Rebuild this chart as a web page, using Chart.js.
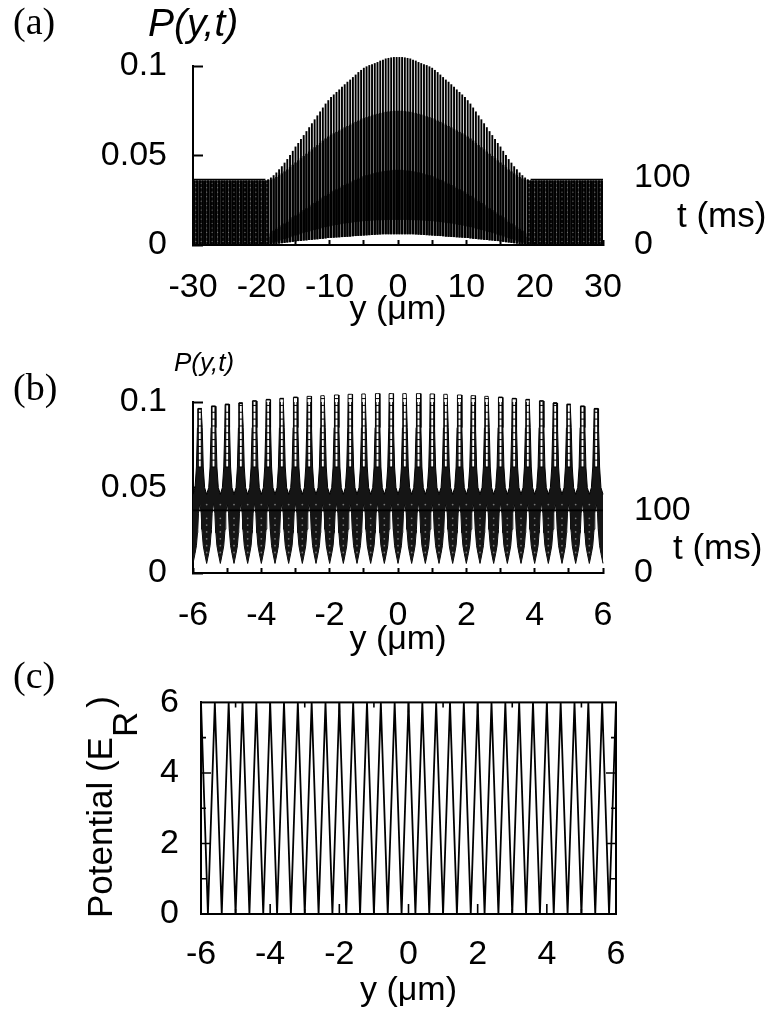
<!DOCTYPE html>
<html>
<head>
<meta charset="utf-8">
<title>P(y,t)</title>
<script src="https://cdn.jsdelivr.net/npm/chart.js@4/dist/chart.umd.min.js"></script>
<style>
  html, body { margin: 0; padding: 0; background: #fff; }
  #page { position: relative; width: 768px; height: 1011px; overflow: hidden; font-family: "Liberation Sans", Arial, sans-serif; color: #000; }
  canvas { position: absolute; left: 0; }
  .txt { position: absolute; white-space: nowrap; line-height: 1; }
  .serif { font-family: "Liberation Serif", serif; font-size: 38px; }
  .ital { font-style: italic; }
</style>
</head>
<body>
<div id="page">
  <canvas id="chartA" width="768" height="330" style="top:0"></canvas>
  <canvas id="chartB" width="768" height="330" style="top:330px"></canvas>
  <canvas id="chartC" width="768" height="351" style="top:660px"></canvas>

  <div class="txt serif" style="left:13px;top:2px">(a)</div>
  <div class="txt ital" style="left:148px;top:3px;font-size:39px">P(y,t)</div>
  <div class="txt" style="left:677px;top:197px;font-size:35px">t (ms)</div>

  <div class="txt serif" style="left:13px;top:368px">(b)</div>
  <div class="txt ital" style="left:174px;top:349px;font-size:26px">P(y,t)</div>
  <div class="txt" style="left:673px;top:529px;font-size:35px">t (ms)</div>

  <div class="txt serif" style="left:13px;top:656px">(c)</div>
  <div class="txt" style="left:82px;top:918px;font-size:35px;transform-origin:0 0;transform:rotate(-90deg)">Potential (E<span style="position:relative;top:25px">R</span><span style="margin-left:4px">)</span></div>
</div>

<script>
// ======== DATA (a): one spike per well, right half mirrored ========
const aPeakX = [-29.8,-29.4,-29,-28.6,-28.2,-27.8,-27.4,-27,-26.6,-26.2,-25.8,-25.4,-25,-24.6,-24.2,-23.8,-23.4,-23,-22.6,-22.2,-21.8,-21.4,-21,-20.6,-20.2,-19.8,-19.4,-19,-18.6,-18.2,-17.8,-17.4,-17,-16.6,-16.2,-15.8,-15.4,-15,-14.6,-14.2,-13.8,-13.4,-13,-12.6,-12.2,-11.8,-11.4,-11,-10.6,-10.2,-9.8,-9.4,-9,-8.6,-8.2,-7.8,-7.4,-7,-6.6,-6.2,-5.8,-5.4,-5,-4.6,-4.2,-3.8,-3.4,-3,-2.6,-2.2,-1.8,-1.4,-1,-0.6,-0.2,0.2,0.6,1,1.4,1.8,2.2,2.6,3,3.4,3.8,4.2,4.6,5,5.4,5.8,6.2,6.6,7,7.4,7.8,8.2,8.6,9,9.4,9.8,10.2,10.6,11,11.4,11.8,12.2,12.6,13,13.4,13.8,14.2,14.6,15,15.4,15.8,16.2,16.6,17,17.4,17.8,18.2,18.6,19,19.4,19.8,20.2,20.6,21,21.4,21.8,22.2,22.6,23,23.4,23.8,24.2,24.6,25,25.4,25.8,26.2,26.6,27,27.4,27.8,28.2,28.6,29,29.4,29.8];
const aHiHalf = [.105,.105,.1048,.1045,.1042,.1035,.103,.1022,.1016,.101,.1005,.0998,.099,.0978,.0966,.0952,.0938,.0924,.0912,.0898,.0884,.0869,.0855,.0841,.0827,.0809,.079,.0768,.0746,.0724,.0702,.068,.0658,.0636,.0614,.0592,.057,.055,.0526,.0503,.048,.046,.044,.0423,.0405,.039,.0377,.0367,.036,.036,.036,.036,.036,.036,.036,.036,.036,.036,.036,.036,.036,.036,.036,.036,.036,.036,.036,.036,.036,.036,.036,.036,.036,.036,.036];
const aMidHalf = [.075,.075,.0748,.0746,.0744,.074,.0737,.0733,.0729,.0724,.0719,.0714,.0709,.0702,.0695,.0688,.068,.0672,.0665,.0657,.0649,.064,.0632,.0624,.0616,.0606,.0595,.0583,.057,.0558,.0546,.0534,.0522,.051,.0497,.0485,.0473,.0461,.0448,.0435,.0422,.0411,.04,.039,.038,.0372,.0365,.0362,.036,.036,.036,.036,.036,.036,.036,.036,.036,.036,.036,.036,.036,.036,.036,.036,.036,.036,.036,.036,.036,.036,.036,.036,.036,.036,.036];
const aCoreHiHalf = [.042,.042,.0418,.0416,.0414,.0412,.041,.0406,.0402,.0398,.0394,.039,.0385,.0378,.0371,.0364,.0357,.035,.0343,.0335,.0327,.0319,.0311,.0303,.0295,.0285,.0275,.0265,.0255,.0245,.0235,.0225,.0215,.0205,.0195,.0185,.0175,.0165,.0155,.0143,.013,.012,.011,.01,.009,.008,.0065,.0045,.036,.036,.036,.036,.036,.036,.036,.036,.036,.036,.036,.036,.036,.036,.036,.036,.036,.036,.036,.036,.036,.036,.036,.036,.036,.036,.036];
const aCoreLoHalf = [.014,.014,.014,.014,.0139,.0139,.0138,.0138,.0137,.0136,.0135,.0134,.0133,.0132,.013,.0128,.0126,.0124,.0122,.012,.0118,.0115,.0112,.0109,.0106,.0103,.01,.0096,.0092,.0088,.0084,.008,.0076,.0072,.0068,.0063,.0058,.0053,.0048,.0043,.0038,.0033,.0028,.0023,.0018,.0013,.0008,.0003,0,0,0,0,0,0,0,0,0,0,0,0,0,0,0,0,0,0,0,0,0,0,0,0,0,0,0];
const aLoHalf = [.006,.006,.006,.006,.006,.006,.0059,.0058,.0057,.0056,.0055,.0054,.0053,.0052,.0051,.005,.0049,.0047,.0046,.0045,.0044,.0043,.0042,.0041,.004,.0039,.0037,.0035,.0034,.0032,.0031,.0029,.0028,.0026,.0025,.0023,.0022,.002,.0018,.0016,.0014,.0012,.001,.0008,.0006,.0004,.0002,0,0,0,0,0,0,0,0,0,0,0,0,0,0,0,0,0,0,0,0,0,0,0,0,0,0,0,0];
const aDotX = [-29.6,-28.8,-28,-27.2,-26.4,-25.6,-24.8,-24,-23.2,-22.4,-21.6,-20.8,-20,-19.2,19.2,20,20.8,21.6,22.4,23.2,24,24.8,25.6,26.4,27.2,28,28.8,29.6];
const aDotY = [.002,.0045,.007,.0095,.012,.0145,.017,.0195,.022,.0245,.027,.0295,.032,.0345];

// ======== DATA (b): peak heights and the measured profile of one well ========
const bPeakX = [-5.8,-5.4,-5,-4.6,-4.2,-3.8,-3.4,-3,-2.6,-2.2,-1.8,-1.4,-1,-0.6,-0.2,0.2,0.6,1,1.4,1.8,2.2,2.6,3,3.4,3.8,4.2,4.6,5,5.4,5.8];
const bPeakHiHalf = [.0961,.0975,.0986,.0994,.1006,.1014,.102,.1027,.1033,.1037,.1041,.1045,.1047,.1049,.1049];
const bWellDx = [-.2,-.14,-.1,-.07,-.06,-.04,0,.04,.06,.07,.1,.14];
const bWellUpper = [.046,.05,.062,.085,null,null,null,null,null,.085,.062,.05];
const bWellLower = [.0056,.0115,.016,.0235,.0256,.035,.041,.035,.0256,.0235,.016,.0115];
const bEndX = 6;
const bEndUpper = .046;
const bEndLower = .0056;
const bRungY = [.062,.066,.07,.074,.078,.082,.086,.09,.094,.098,.102];
const bBarrierX = [-5.6,-5.2,-4.8,-4.4,-4,-3.6,-3.2,-2.8,-2.4,-2,-1.6,-1.2,-.8,-.4,0,.4,.8,1.2,1.6,2,2.4,2.8,3.2,3.6,4,4.4,4.8,5.2,5.6];
const bDotY = [.012,.016,.02,.024,.028,.032,.04];
const bFlatX = [-6, 6];
const bFlatY = [.0366, .0366];

// ======== DATA (c): potential ========
const cY = [-6,-5.8,-5.6,-5.4,-5.2,-5,-4.8,-4.6,-4.4,-4.2,-4,-3.8,-3.6,-3.4,-3.2,-3,-2.8,-2.6,-2.4,-2.2,-2,-1.8,-1.6,-1.4,-1.2,-1,-.8,-.6,-.4,-.2,0,.2,.4,.6,.8,1,1.2,1.4,1.6,1.8,2,2.2,2.4,2.6,2.8,3,3.2,3.4,3.6,3.8,4,4.2,4.4,4.6,4.8,5,5.2,5.4,5.6,5.8,6];
const cV = [6,0,6,0,6,0,6,0,6,0,6,0,6,0,6,0,6,0,6,0,6,0,6,0,6,0,6,0,6,0,6,0,6,0,6,0,6,0,6,0,6,0,6,0,6,0,6,0,6,0,6,0,6,0,6,0,6,0,6,0,6];
const cLongX = [-4,-2,0,2,4];
const cShortX = [-5,-3,-1,1,3,5];
const cLongV = [2,4];
const cShortV = [1,3,5];

// ======== HELPERS ========
const centreOut = h => [...h].reverse().concat(h);
const edgeIn = h => h.concat([...h].reverse());
const FONT = { family: '"Liberation Sans", Arial, sans-serif', size: 34 };

function spikeBars(lo, hi, thickness, color) {
  return {
    type: 'bar', order: 5, clip: false, grouped: false, barThickness: thickness,
    inflateAmount: 0, borderWidth: 0, borderSkipped: false, backgroundColor: color,
    data: aPeakX.map((x, i) => ({ x, y: [lo[i], hi[i]] }))
  };
}

function line(points, color, width, extra) {
  return Object.assign({
    type: 'line', data: points, borderColor: color, borderWidth: width,
    pointRadius: 0, tension: 0, fill: false, clip: false, order: 1
  }, extra);
}

function marks(points, style, radius, color, width, rotation, extra) {
  return Object.assign({
    type: 'scatter', data: points, pointStyle: style, pointRadius: radius, rotation: rotation,
    pointBorderColor: color, pointBackgroundColor: color, pointBorderWidth: width, clip: false, order: 0
  }, extra);
}

function xAxis(opts) {
  return Object.assign({
    type: 'linear', position: 'bottom', offset: false,
    border: { color: '#000', width: 2 },
    grid: { drawOnChartArea: false, drawTicks: true, tickLength: -5, tickColor: '#000', tickWidth: 2, offset: false },
    title: { display: true, text: 'y (\u03bcm)', color: '#000', font: FONT, padding: { top: 0, bottom: 0 } }
  }, opts);
}

function pAxis() {
  return {
    type: 'linear', position: 'left', min: 0, max: 0.1,
    border: { color: '#000', width: 2 },
    grid: { drawOnChartArea: false, drawTicks: true, tickLength: -10, tickColor: '#000', tickWidth: 2 },
    ticks: { stepSize: 0.05, color: '#000', font: FONT, padding: 36, callback: v => +v.toFixed(2) },
    afterFit: s => { s.width = 193; }
  };
}

function tAxis(max) {
  return {
    type: 'linear', position: 'right', min: 0, max: max,
    border: { display: false },
    grid: { display: false },
    ticks: { color: '#000', font: FONT, padding: 23 },
    afterBuildTicks: s => { s.ticks = [{ value: 0 }, { value: 100 }]; },
    afterFit: s => { s.width = 165; }
  };
}

function panel(id, datasets, scales, padding, plugins) {
  return new Chart(document.getElementById(id), {
    type: 'scatter',
    data: { datasets },
    options: {
      responsive: false, animation: false, devicePixelRatio: 1,
      layout: { padding },
      plugins: { legend: { display: false }, tooltip: { enabled: false } },
      scales
    },
    plugins: plugins || []
  });
}

// ======== PANEL (a) ========
const aHi = centreOut(aHiHalf), aMid = centreOut(aMidHalf), aCoreHi = centreOut(aCoreHiHalf);
const aCoreLo = centreOut(aCoreLoHalf), aLo = centreOut(aLoHalf);
const aDots = aDotX.flatMap(x => aDotY.map(y => ({ x, y })));

panel('chartA', [
  spikeBars(aLo, aHi, 1.9, '#000'),
  spikeBars(aLo, aMid, 2.3, '#0a0a0a'),
  spikeBars(aCoreLo, aCoreHi, 2.55, '#000'),
  line([{ x: -30, y: .0366 }, { x: -19.4, y: .0366 }], '#000', 1.5),
  line([{ x: 19.4, y: .0366 }, { x: 30, y: .0366 }], '#000', 1.5),
  marks(aDots, 'circle', 0.6, '#777', 0)
], {
  x: xAxis({
    min: -30, max: 30,
    ticks: { autoSkip: false, maxRotation: 0, color: '#000', font: FONT, padding: 27, stepSize: 5,
      callback: v => (v % 10 === 0 ? v : '') },
    afterFit: s => { s.height = 85; }
  }),
  y: pAxis(),
  t: tAxis(267)
}, { top: 66 });

// ======== PANEL (b) ========
const bPeakHi = edgeIn(bPeakHiHalf);
const bUpper = [], bLower = [];
bPeakX.forEach((px, k) => {
  bWellDx.forEach((dx, j) => {
    const x = px + dx;
    bUpper.push({ x, y: bWellUpper[j] === null ? bPeakHi[k] : bWellUpper[j] });
    bLower.push({ x, y: bWellLower[j] });
  });
});
bUpper.push({ x: bEndX, y: bEndUpper });
bLower.push({ x: bEndX, y: bEndLower });

const bRungs = bPeakX.flatMap((x, k) => bRungY.filter(y => y < bPeakHi[k] - .001).map(y => ({ x, y })));
const bCapRungs = bPeakX.map((x, k) => ({ x, y: bPeakHi[k] }));
const bDots = bBarrierX.flatMap(x => bDotY.map(y => ({ x, y })));

panel('chartB', [
  line(bUpper, '#000', 1, { fill: { target: '+1', above: '#151515', below: '#151515' }, order: 6 }),
  line(bLower, '#000', 1, { order: 6 }),
  {
    type: 'bar', order: 5, clip: false, grouped: false, barThickness: 1.8, inflateAmount: 0,
    borderWidth: 0, borderSkipped: false, backgroundColor: '#fff',
    data: bPeakX.map((x, k) => ({ x, y: [.062, bPeakHi[k] - .0005] }))
  },
  marks(bRungs, 'line', 2, '#000', 1, 0, { order: 4 }),
  marks(bCapRungs, 'line', 2, '#000', 1.5, 0, { order: 4 }),
  marks(bDots, 'circle', 0.9, '#777', 0, 0, { order: 3 }),
  line(bFlatX.map((x, i) => ({ x, y: bFlatY[i] })), '#000', 1.6, { order: 2 })
], {
  x: xAxis({
    min: -6, max: 6,
    ticks: { autoSkip: false, maxRotation: 0, color: '#000', font: FONT, padding: 27, stepSize: 1,
      callback: v => (v % 2 === 0 ? v : '') },
    afterFit: s => { s.height = 87; }
  }),
  y: pAxis(),
  t: tAxis(276)
}, { top: 72 });

// ======== PANEL (c) ========
const frame = {
  id: 'frame',
  afterDatasetsDraw(chart) {
    const { ctx, chartArea: a } = chart;
    ctx.save();
    ctx.strokeStyle = '#000';
    ctx.lineWidth = 2;
    ctx.strokeRect(a.left, a.top, a.right - a.left, a.bottom - a.top);
    ctx.restore();
  }
};

const edgeX = (list, v) => list.map(x => ({ x, y: v }));
const edgeV = (list, x) => list.map(y => ({ x, y }));

panel('chartC', [
  line(cY.map((x, i) => ({ x, y: cV[i] })), '#000', 1.8, { clip: 0 }),
  marks(edgeX(cLongX, 0), 'line', 10, '#000', 1.6, 90, { clip: 0 }),
  marks(edgeX(cLongX, 6), 'line', 10, '#000', 1.6, 90, { clip: 0 }),
  marks(edgeX(cShortX, 0), 'line', 5, '#000', 1.6, 90, { clip: 0 }),
  marks(edgeX(cShortX, 6), 'line', 5, '#000', 1.6, 90, { clip: 0 }),
  marks(edgeV(cLongV, -6), 'line', 10, '#000', 1.6, 0, { clip: 0 }),
  marks(edgeV(cLongV, 6), 'line', 10, '#000', 1.6, 0, { clip: 0 }),
  marks(edgeV(cShortV, -6), 'line', 5, '#000', 1.6, 0, { clip: 0 }),
  marks(edgeV(cShortV, 6), 'line', 5, '#000', 1.6, 0, { clip: 0 })
], {
  x: xAxis({
    min: -6, max: 6,
    grid: { drawOnChartArea: false, drawTicks: false },
    ticks: { autoSkip: false, maxRotation: 0, color: '#000', font: FONT, padding: 20, stepSize: 2 },
    afterFit: s => { s.height = 97; }
  }),
  y: {
    type: 'linear', position: 'left', min: 0, max: 6,
    border: { color: '#000', width: 2 },
    grid: { drawOnChartArea: false, drawTicks: false },
    ticks: { stepSize: 2, color: '#000', font: FONT, padding: 22 },
    afterFit: s => { s.width = 201; }
  }
}, { top: 34, right: 152 }, [frame]);
</script>
</body>
</html>
